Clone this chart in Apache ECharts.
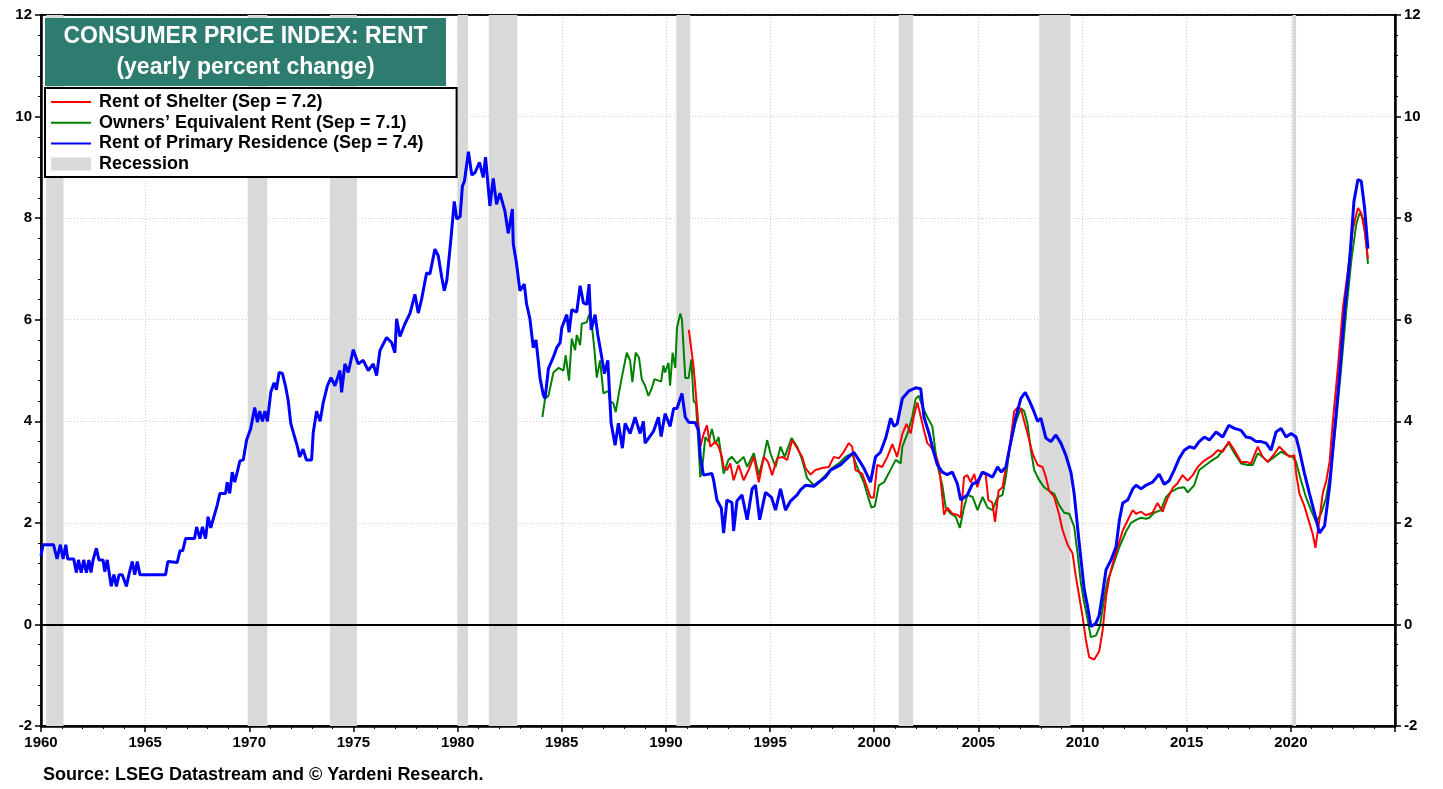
<!DOCTYPE html>
<html>
<head>
<meta charset="utf-8">
<script src="https://cdn.jsdelivr.net/npm/echarts@6/dist/echarts.min.js"></script>
<style>
  html, body { margin: 0; padding: 0; background: #fff; }
  #chart { width: 1443px; height: 789px; }
</style>
</head>
<body>
<div id="chart"></div>
<script>
// yearly % change, [decimal year, value]
const rentPrimaryResidence = [
  [1960.0,1.35],[1960.1,1.57],[1960.6,1.57],[1960.77,1.29],[1960.93,1.57],[1961.06,1.29],[1961.19,1.57],[1961.28,1.29],
  [1961.57,1.29],[1961.7,1.02],[1961.8,1.27],[1961.93,1.02],[1962.05,1.27],[1962.18,1.02],[1962.3,1.27],[1962.4,1.02],
  [1962.5,1.27],[1962.66,1.5],[1962.78,1.27],[1962.98,1.27],[1963.06,1.04],[1963.18,1.27],[1963.37,0.75],[1963.5,0.98],
  [1963.62,0.75],[1963.75,0.98],[1963.9,0.98],[1964.1,0.75],[1964.22,0.98],[1964.38,1.24],[1964.5,0.98],[1964.62,1.24],
  [1964.75,0.98],[1965.98,0.98],[1966.09,1.24],[1966.54,1.22],[1966.67,1.45],[1966.8,1.45],[1966.94,1.69],[1967.37,1.69],
  [1967.47,1.92],[1967.63,1.69],[1967.75,1.92],[1967.9,1.69],[1968.02,2.12],[1968.15,1.9],[1968.3,2.12],[1968.46,2.35],
  [1968.59,2.58],[1968.86,2.58],[1968.94,2.8],[1969.06,2.58],[1969.18,3.0],[1969.3,2.8],[1969.42,3.0],[1969.55,3.22],
  [1969.71,3.24],[1969.87,3.63],[1970.07,3.86],[1970.26,4.27],[1970.39,3.98],[1970.5,4.2],[1970.63,4.0],[1970.75,4.2],
  [1970.87,4.0],[1971.03,4.57],[1971.19,4.76],[1971.3,4.62],[1971.43,4.96],[1971.59,4.94],[1971.75,4.67],[1971.87,4.4],
  [1971.99,3.96],[1972.12,3.77],[1972.31,3.5],[1972.42,3.3],[1972.58,3.45],[1972.74,3.24],[1972.99,3.24],[1973.07,3.78],
  [1973.23,4.2],[1973.4,4.0],[1973.55,4.37],[1973.75,4.7],[1973.92,4.86],[1974.11,4.7],[1974.35,5.0],[1974.43,4.57],
  [1974.59,5.13],[1974.75,4.96],[1974.99,5.41],[1975.23,5.13],[1975.47,5.2],[1975.71,5.0],[1975.95,5.13],[1976.11,4.9],
  [1976.27,5.39],[1976.59,5.65],[1976.83,5.55],[1976.99,5.35],[1977.07,6.02],[1977.23,5.67],[1977.47,5.92],[1977.71,6.12],
  [1977.95,6.5],[1978.11,6.13],[1978.27,6.4],[1978.51,6.92],[1978.67,6.9],[1978.91,7.39],[1979.07,7.26],[1979.24,6.83],
  [1979.36,6.57],[1979.48,6.77],[1979.68,7.59],[1979.84,8.33],[1979.96,7.98],[1980.12,8.03],[1980.23,8.63],[1980.33,8.73],
  [1980.52,9.31],[1980.68,8.85],[1980.84,8.9],[1981.05,9.1],[1981.23,8.8],[1981.34,9.2],[1981.55,8.24],[1981.71,8.78],
  [1981.87,8.27],[1982.03,8.49],[1982.27,8.14],[1982.43,7.7],[1982.63,8.18],[1982.67,7.5],[1982.83,7.1],[1982.99,6.57],
  [1983.2,6.7],[1983.31,6.31],[1983.47,6.02],[1983.63,5.45],[1983.76,5.6],[1983.87,5.2],[1983.96,4.84],[1984.12,4.51],
  [1984.2,4.45],[1984.36,5.04],[1984.6,5.27],[1984.76,5.45],[1984.92,5.55],[1985.0,5.84],[1985.24,6.1],[1985.35,5.75],
  [1985.48,6.2],[1985.72,6.15],[1985.88,6.67],[1986.04,6.33],[1986.2,6.3],[1986.31,6.7],[1986.41,5.8],[1986.6,6.1],
  [1986.73,5.7],[1986.84,5.45],[1987.05,4.94],[1987.21,5.2],[1987.37,3.96],[1987.56,3.53],[1987.72,3.96],[1987.91,3.47],
  [1988.04,3.96],[1988.28,3.76],[1988.52,4.08],[1988.76,3.76],[1988.92,4.0],[1989.0,3.57],[1989.4,3.8],[1989.64,4.08],
  [1989.77,3.7],[1989.96,4.15],[1990.2,3.9],[1990.37,4.25],[1990.53,4.25],[1990.77,4.55],[1990.93,4.08],[1991.09,3.98],
  [1991.41,3.97],[1991.57,3.82],[1991.65,3.3],[1991.8,2.94],[1992.21,2.97],[1992.29,2.84],[1992.45,2.45],[1992.66,2.29],
  [1992.77,1.8],[1992.93,2.45],[1993.17,2.4],[1993.25,1.84],[1993.41,2.43],[1993.65,2.55],[1993.9,2.06],[1994.14,2.67],
  [1994.3,2.74],[1994.5,2.06],[1994.78,2.6],[1995.07,2.5],[1995.26,2.25],[1995.5,2.67],[1995.74,2.25],[1995.98,2.43],
  [1996.3,2.55],[1996.46,2.65],[1996.7,2.74],[1997.1,2.72],[1997.34,2.8],[1997.66,2.9],[1997.9,3.04],[1998.38,3.14],
  [1998.78,3.3],[1999.02,3.39],[1999.26,3.24],[1999.5,3.08],[1999.82,2.8],[2000.06,3.3],[2000.3,3.39],[2000.55,3.67],
  [2000.79,4.06],[2000.95,3.9],[2001.1,3.95],[2001.35,4.45],[2001.67,4.6],[2001.99,4.66],[2002.07,4.67],[2002.23,4.64],
  [2002.39,4.08],[2002.63,3.76],[2002.87,3.37],[2003.03,3.14],[2003.27,3.0],[2003.5,2.95],[2003.75,3.0],[2003.99,2.77],
  [2004.15,2.45],[2004.47,2.55],[2004.72,2.77],[2004.95,2.8],[2005.2,3.0],[2005.45,2.95],[2005.68,2.9],[2005.92,3.1],
  [2006.1,3.0],[2006.32,3.1],[2006.51,3.5],[2006.8,4.08],[2007.04,4.45],[2007.25,4.57],[2007.44,4.41],[2007.68,4.18],
  [2007.84,4.0],[2008.0,4.06],[2008.24,3.67],[2008.48,3.6],[2008.72,3.73],[2008.96,3.57],[2009.2,3.33],[2009.44,3.0],
  [2009.6,2.57],[2009.84,1.6],[2010.08,0.69],[2010.24,0.36],[2010.4,-0.04],[2010.64,0.02],[2010.8,0.18],[2010.97,0.63],
  [2011.13,1.08],[2011.37,1.27],[2011.61,1.53],[2011.77,2.06],[2011.93,2.39],[2012.17,2.45],[2012.41,2.67],[2012.57,2.74],
  [2012.81,2.67],[2013.04,2.74],[2013.36,2.8],[2013.68,2.96],[2013.92,2.76],[2014.16,2.83],[2014.4,3.04],[2014.64,3.27],
  [2014.88,3.43],[2015.13,3.5],[2015.37,3.47],[2015.6,3.6],[2015.85,3.69],[2016.09,3.63],[2016.41,3.79],[2016.73,3.69],
  [2017.02,3.92],[2017.29,3.86],[2017.61,3.82],[2017.85,3.69],[2018.09,3.67],[2018.33,3.6],[2018.57,3.6],[2018.81,3.57],
  [2019.05,3.43],[2019.29,3.79],[2019.53,3.86],[2019.77,3.69],[2020.01,3.76],[2020.25,3.69],[2020.41,3.43],[2020.65,2.98],
  [2020.89,2.58],[2021.13,2.2],[2021.37,1.8],[2021.62,1.94],[2021.86,2.72],[2022.1,3.82],[2022.34,4.93],[2022.58,6.18],
  [2022.82,7.16],[2023.03,8.33],[2023.22,8.76],[2023.38,8.73],[2023.54,8.2],[2023.7,7.4]
];

const rentOfShelter = [
  [1991.1,5.8],[1991.17,5.8],[1991.33,5.06],[1991.49,4.28],[1991.65,3.5],[1991.81,3.75],[1991.97,3.92],[1992.13,3.5],
  [1992.37,3.6],[1992.53,3.5],[1992.69,3.3],[1992.77,3.1],[1992.93,3.04],[1993.09,3.17],[1993.25,2.84],[1993.49,3.14],
  [1993.73,2.84],[1993.97,3.04],[1994.22,3.3],[1994.46,2.8],[1994.7,3.3],[1994.9,3.2],[1995.1,2.94],[1995.34,3.27],
  [1995.58,3.3],[1995.82,3.24],[1996.06,3.63],[1996.3,3.47],[1996.54,3.3],[1996.7,3.08],[1996.94,2.95],[1997.18,3.04],
  [1997.5,3.08],[1997.82,3.1],[1998.06,3.3],[1998.3,3.27],[1998.54,3.4],[1998.78,3.57],[1998.94,3.5],[1999.1,3.04],
  [1999.42,2.97],[1999.66,2.7],[1999.82,2.5],[1999.98,2.5],[2000.14,3.14],[2000.38,3.1],[2000.63,3.3],[2000.87,3.55],
  [2001.1,3.3],[2001.35,3.75],[2001.55,3.95],[2001.75,3.76],[2001.9,4.1],[2002.07,4.37],[2002.23,4.1],[2002.39,3.82],
  [2002.55,3.57],[2002.71,3.5],[2002.95,3.33],[2003.11,3.14],[2003.27,2.51],[2003.35,2.16],[2003.51,2.3],[2003.75,2.18],
  [2003.99,2.16],[2004.15,2.1],[2004.31,2.9],[2004.47,2.94],[2004.63,2.8],[2004.8,2.96],[2004.95,2.7],[2005.16,3.0],
  [2005.35,2.95],[2005.48,2.45],[2005.67,2.4],[2005.8,2.02],[2005.97,2.63],[2006.16,2.7],[2006.32,3.1],[2006.48,3.43],
  [2006.72,4.2],[2006.88,4.27],[2007.04,4.25],[2007.2,4.0],[2007.36,3.76],[2007.6,3.37],[2007.84,3.14],[2008.08,3.1],
  [2008.24,2.9],[2008.4,2.63],[2008.64,2.51],[2008.88,2.16],[2009.04,1.86],[2009.28,1.57],[2009.52,1.4],[2009.68,0.94],
  [2009.84,0.55],[2010.0,0.16],[2010.16,-0.3],[2010.32,-0.65],[2010.56,-0.69],[2010.8,-0.53],[2010.97,-0.1],[2011.13,0.55],
  [2011.29,0.94],[2011.45,1.2],[2011.69,1.53],[2011.93,1.85],[2012.25,2.12],[2012.41,2.25],[2012.57,2.18],[2012.81,2.22],
  [2013.04,2.15],[2013.36,2.2],[2013.6,2.39],[2013.84,2.22],[2014.08,2.48],[2014.32,2.68],[2014.56,2.78],[2014.8,2.94],
  [2015.05,2.83],[2015.29,2.94],[2015.53,3.1],[2015.77,3.2],[2016.01,3.27],[2016.25,3.33],[2016.49,3.43],[2016.73,3.4],
  [2017.02,3.6],[2017.29,3.43],[2017.61,3.2],[2017.85,3.2],[2018.09,3.17],[2018.41,3.5],[2018.65,3.3],[2018.89,3.2],
  [2019.21,3.36],[2019.45,3.5],[2019.69,3.4],[2019.93,3.3],[2020.17,3.33],[2020.25,2.98],[2020.41,2.58],[2020.65,2.33],
  [2020.89,2.0],[2021.05,1.78],[2021.18,1.51],[2021.37,2.06],[2021.53,2.58],[2021.7,2.83],[2021.86,3.2],[2022.02,4.02],
  [2022.26,5.06],[2022.5,6.24],[2022.74,6.96],[2022.98,7.8],[2023.22,8.2],[2023.38,8.1],[2023.54,7.76],[2023.7,7.2]
];

const ownersEquivRent = [
  [1984.07,4.08],[1984.2,4.45],[1984.36,4.5],[1984.6,4.96],[1984.84,5.05],[1985.08,5.0],[1985.19,5.3],[1985.35,4.8],
  [1985.48,5.63],[1985.64,5.4],[1985.72,5.7],[1985.88,5.5],[1985.96,5.92],[1986.2,5.95],[1986.31,6.1],[1986.44,5.92],
  [1986.57,5.4],[1986.68,4.86],[1986.84,5.2],[1987.0,4.55],[1987.24,4.6],[1987.32,4.4],[1987.48,4.35],[1987.59,4.18],
  [1987.72,4.5],[1987.88,4.86],[1988.12,5.35],[1988.28,5.2],[1988.39,4.77],[1988.55,5.35],[1988.71,5.25],[1988.84,4.83],
  [1989.0,4.7],[1989.16,4.5],[1989.32,4.65],[1989.45,4.83],[1989.64,4.8],[1989.77,4.78],[1989.88,5.1],[1989.96,4.96],
  [1990.12,5.15],[1990.2,4.7],[1990.32,5.35],[1990.45,5.05],[1990.53,5.84],[1990.69,6.12],[1990.77,6.0],[1990.93,4.85],
  [1991.09,4.85],[1991.22,5.22],[1991.33,4.4],[1991.44,4.35],[1991.57,3.5],[1991.65,2.9],[1991.75,3.1],[1991.89,3.69],
  [1992.05,3.6],[1992.21,3.85],[1992.37,3.55],[1992.53,3.69],[1992.77,2.97],[1993.0,3.24],[1993.17,3.3],[1993.41,3.17],
  [1993.73,3.3],[1993.9,3.1],[1994.22,3.37],[1994.46,2.94],[1994.7,3.3],[1994.86,3.63],[1995.02,3.37],[1995.26,3.1],
  [1995.5,3.5],[1995.7,3.3],[1996.03,3.67],[1996.3,3.5],[1996.54,3.24],[1996.78,2.88],[1997.1,2.74],[1997.42,2.84],
  [1997.66,2.94],[1997.98,3.08],[1998.3,3.17],[1998.62,3.3],[1998.94,3.37],[1999.18,3.1],[1999.5,2.8],[1999.71,2.5],
  [1999.87,2.3],[2000.03,2.33],[2000.22,2.74],[2000.47,2.8],[2000.7,2.98],[2001.03,3.24],[2001.27,3.17],[2001.35,3.5],
  [2001.6,3.76],[2001.83,4.1],[2001.99,4.45],[2002.15,4.5],[2002.3,4.3],[2002.55,4.08],[2002.79,3.9],[2002.95,3.37],
  [2003.11,3.0],[2003.27,2.74],[2003.43,2.3],[2003.67,2.18],[2003.91,2.12],[2004.11,1.9],[2004.31,2.3],[2004.47,2.55],
  [2004.72,2.51],[2004.96,2.25],[2005.2,2.51],[2005.44,2.3],[2005.68,2.25],[2005.92,2.5],[2006.16,2.55],[2006.32,2.9],
  [2006.51,3.5],[2006.8,4.0],[2007.04,4.25],[2007.2,4.2],[2007.36,3.95],[2007.52,3.43],[2007.68,3.04],[2007.92,2.84],
  [2008.16,2.7],[2008.4,2.63],[2008.64,2.57],[2008.88,2.35],[2009.12,2.2],[2009.36,2.18],[2009.6,1.92],[2009.76,1.4],
  [2009.92,0.82],[2010.08,0.43],[2010.24,0.1],[2010.4,-0.25],[2010.64,-0.22],[2010.84,-0.03],[2011.05,0.55],[2011.21,0.88],
  [2011.45,1.14],[2011.77,1.53],[2012.09,1.83],[2012.33,2.0],[2012.57,2.06],[2012.81,2.1],[2013.05,2.08],[2013.2,2.1],
  [2013.44,2.2],[2013.76,2.25],[2014.0,2.5],[2014.24,2.61],[2014.56,2.68],[2014.88,2.7],[2015.05,2.6],[2015.36,2.74],
  [2015.6,3.04],[2015.92,3.14],[2016.25,3.24],[2016.49,3.3],[2016.73,3.43],[2017.02,3.57],[2017.29,3.37],[2017.61,3.17],
  [2017.93,3.14],[2018.17,3.14],[2018.41,3.37],[2018.65,3.3],[2018.89,3.2],[2019.21,3.3],[2019.53,3.4],[2019.85,3.33],
  [2020.09,3.3],[2020.25,3.2],[2020.49,2.83],[2020.73,2.5],[2020.97,2.25],[2021.21,2.02],[2021.45,2.18],[2021.7,2.5],
  [2021.94,3.1],[2022.18,4.02],[2022.42,5.06],[2022.66,6.18],[2022.9,7.16],[2023.14,7.88],[2023.3,8.1],[2023.46,8.0],
  [2023.62,7.55],[2023.7,7.1]
];

const recessions = [
  [1960.25, 1961.08], [1969.92, 1970.87], [1973.87, 1975.17], [1980.0, 1980.5],
  [1981.5, 1982.87], [1990.5, 1991.17], [2001.17, 2001.87], [2007.92, 2009.42], [2020.08, 2020.25]
];

const legendNames = [
  'Rent of Shelter (Sep = 7.2)',
  'Owners\u2019 Equivalent Rent (Sep = 7.1)',
  'Rent of Primary Residence (Sep = 7.4)',
  'Recession'
];

const FONT = '"Liberation Sans", Arial, sans-serif';

let chartInstance = echarts.init(document.getElementById('chart'));

function yAxisCfg(pos) {
  return {
    type: 'value',
    position: pos,
    min: -2,
    max: 12,
    interval: 2,
    axisLine: { show: true, lineStyle: { color: '#000', width: 2.5 } },
    axisTick: { show: true, length: 6, lineStyle: { color: '#000', width: 1.5 } },
    minorTick: { show: true, splitNumber: 5, length: 3, lineStyle: { color: '#000', width: 1 } },
    axisLabel: { color: '#000', fontFamily: FONT, fontWeight: 'bold', fontSize: 15, margin: 9 },
    splitLine: { show: pos === 'left', lineStyle: { color: '#cfcfcf', type: [1, 2], width: 1 } },
    minorSplitLine: { show: false }
  };
}

// legend entries for lines: hide the marker, keep the stroke
const lineLegend = (name) => ({ name: name, itemStyle: { opacity: 0 } });

let option = {
  animation: false,
  backgroundColor: '#fff',
  grid: {
    left: 41,
    right: 48,
    top: 15,
    bottom: 63,
    show: true,
    borderColor: '#000',
    borderWidth: 1.5,
    backgroundColor: 'transparent'
  },
  legend: {
    orient: 'vertical',
    left: 45,
    top: 88,
    padding: [5, 33, 4, 5],
    itemGap: 2.7,
    itemWidth: 40,
    itemHeight: 13,
    backgroundColor: '#fff',
    borderColor: '#000',
    borderWidth: 2,
    borderRadius: 0,
    textStyle: {
      color: '#000', fontFamily: FONT, fontWeight: 'bold', fontSize: 18,
      lineHeight: 18, padding: [0, 0, 0, 3]
    },
    data: [
      lineLegend(legendNames[0]),
      lineLegend(legendNames[1]),
      lineLegend(legendNames[2]),
      { name: legendNames[3], icon: 'rect', itemStyle: { color: '#d9d9d9', opacity: 1 } }
    ],
    selectedMode: false
  },
  xAxis: [
    {
      type: 'value',
      min: 1960,
      max: 2025,
      interval: 5,
      axisLine: { show: true, onZero: false, lineStyle: { color: '#000', width: 2.5 } },
      axisTick: { show: true, length: 6, lineStyle: { color: '#000', width: 1.5 } },
      minorTick: { show: true, splitNumber: 5, length: 3, lineStyle: { color: '#000', width: 1 } },
      axisLabel: {
        color: '#000', fontFamily: FONT, fontWeight: 'bold', fontSize: 15, margin: 9,
        formatter: (v) => (v === 2025 ? '' : String(v))
      },
      splitLine: { show: true, lineStyle: { color: '#cfcfcf', type: [1, 2], width: 1 } }
    },
    {
      // top frame line only
      type: 'value',
      position: 'top',
      min: 1960,
      max: 2025,
      interval: 5,
      axisLine: { show: true, onZero: false, lineStyle: { color: '#000', width: 1.5 } },
      axisTick: { show: false },
      axisLabel: { show: false },
      splitLine: { show: false }
    }
  ],
  yAxis: [yAxisCfg('left'), yAxisCfg('right')],
  graphic: [
    {
      type: 'rect',
      left: 45, top: 18,
      shape: { width: 401, height: 68 },
      style: { fill: '#2e7b6f' },
      z: 100
    },
    {
      type: 'text',
      x: 245.5, y: 37,
      style: {
        text: 'CONSUMER PRICE INDEX: RENT', fill: '#fff', align: 'center', verticalAlign: 'middle',
        font: 'bold 23px ' + FONT
      },
      z: 101
    },
    {
      type: 'text',
      x: 245.5, y: 68,
      style: {
        text: '(yearly percent change)', fill: '#fff', align: 'center', verticalAlign: 'middle',
        font: 'bold 23px ' + FONT
      },
      z: 101
    },
    {
      type: 'text',
      x: 43, y: 775,
      style: {
        text: 'Source: LSEG Datastream and \u00a9 Yardeni Research.', fill: '#000', align: 'left',
        verticalAlign: 'middle', font: 'bold 18px ' + FONT
      }
    }
  ],
  series: [
    {
      name: legendNames[3],
      type: 'line',
      data: [],
      symbol: 'none',
      itemStyle: { color: '#d9d9d9' },
      silent: true,
      z: 1,
      markArea: {
        silent: true,
        itemStyle: { color: '#d9d9d9' },
        data: recessions.map((r) => [{ xAxis: r[0] }, { xAxis: r[1] }])
      },
      markLine: {
        silent: true,
        symbol: 'none',
        label: { show: false },
        lineStyle: { color: '#000', width: 2, type: 'solid' },
        data: [{ yAxis: 0 }]
      }
    },
    {
      name: legendNames[1],
      type: 'line',
      data: ownersEquivRent,
      symbol: 'none',
      lineStyle: { color: '#008000', width: 2 },
      itemStyle: { color: '#008000' },
      z: 3
    },
    {
      name: legendNames[0],
      type: 'line',
      data: rentOfShelter,
      symbol: 'none',
      lineStyle: { color: '#ff0000', width: 2 },
      itemStyle: { color: '#ff0000' },
      z: 4
    },
    {
      name: legendNames[2],
      type: 'line',
      data: rentPrimaryResidence,
      symbol: 'none',
      lineStyle: { color: '#0000ff', width: 3 },
      itemStyle: { color: '#0000ff' },
      z: 5
    }
  ]
};

chartInstance.setOption(option);
</script>
</body>
</html>
